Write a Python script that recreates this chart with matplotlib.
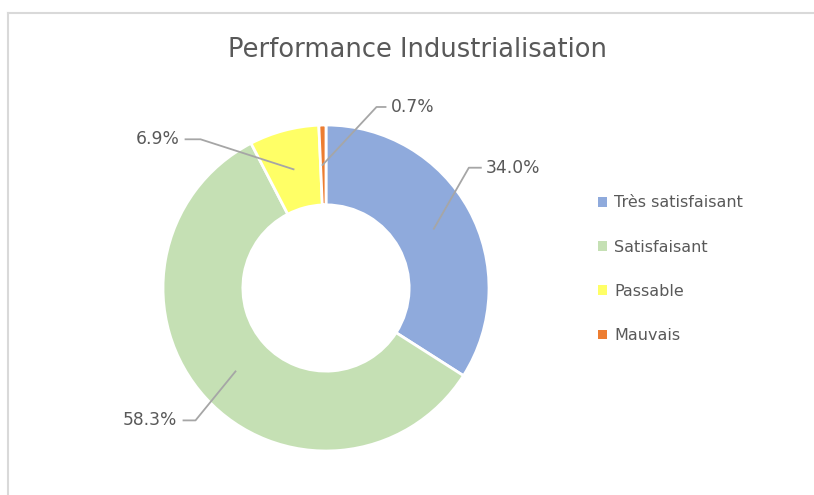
import numpy as np
import matplotlib
matplotlib.use("Agg")
import matplotlib.pyplot as plt
from matplotlib.lines import Line2D

categories = ["Très satisfaisant", "Satisfaisant", "Passable", "Mauvais"]
values = [34.0, 58.3, 6.9, 0.7]
colors = ["#8FAADC", "#C5E0B4", "#FFFF66", "#ED7D31"]

W, H = 814, 495
TXT = "#595959"
LEAD = "#A6A6A6"

fig = plt.figure(figsize=(W / 100, H / 100), dpi=100)
ax = fig.add_axes([0, 0, 1, 1])

cx, cy, R = 326, H - 288, 163
wedges, _ = ax.pie(values, colors=colors, startangle=90, counterclock=False,
                   center=(cx, cy), radius=R,
                   wedgeprops=dict(width=R * 0.49, edgecolor="white", linewidth=2))
ax.set_xlim(0, W)
ax.set_ylim(0, H)
ax.set_aspect("equal")
ax.axis("off")

# leader lines: (elbow dx, elbow dy, horizontal length) relative to wedge anchor
label_layout = [(+35, +61, +12), (-40, -49, -12), (-93, +30, -15), (+54, +58, +9)]
start = 90.0
for v, (ex, ey, hl) in zip(values, label_layout):
    mid = np.deg2rad(start - v * 3.6 / 2)
    start -= v * 3.6
    rm = R - R * 0.49 / 2
    x0, y0 = cx + rm * np.cos(mid), cy + rm * np.sin(mid)
    x1, y1 = x0 + ex, y0 + ey
    x2 = x1 + hl
    ax.plot([x0, x1, x2], [y0, y1, y1], color=LEAD, lw=1.3, zorder=3)
    ha = "left" if hl > 0 else "right"
    ax.text(x2 + (5 if hl > 0 else -6), y1, f"{v:.1f}%", ha=ha, va="center",
            fontsize=12.3, color=TXT)

ax.text(417, H - 50, "Performance Industrialisation", ha="center", va="center",
        fontsize=18.5, color=TXT)

leg = ax.legend(wedges, categories, loc="upper left", bbox_to_anchor=(584 / W, 1 - 181 / H),
                frameon=False, fontsize=11.5, labelcolor=TXT, handlelength=0.55,
                handleheight=0.55, handletextpad=0.45, labelspacing=1.83)
for h in leg.legend_handles:
    h.set_edgecolor("none")

# chart border (top and left only visible)
fig.add_artist(Line2D([7.5 / W, 7.5 / W], [0, 1 - 13 / H], color="#D9D9D9", lw=1.5))
fig.add_artist(Line2D([7.5 / W, 1], [1 - 13 / H, 1 - 13 / H], color="#D9D9D9", lw=1.5))

fig.savefig("out.png", dpi=100, facecolor="white")
